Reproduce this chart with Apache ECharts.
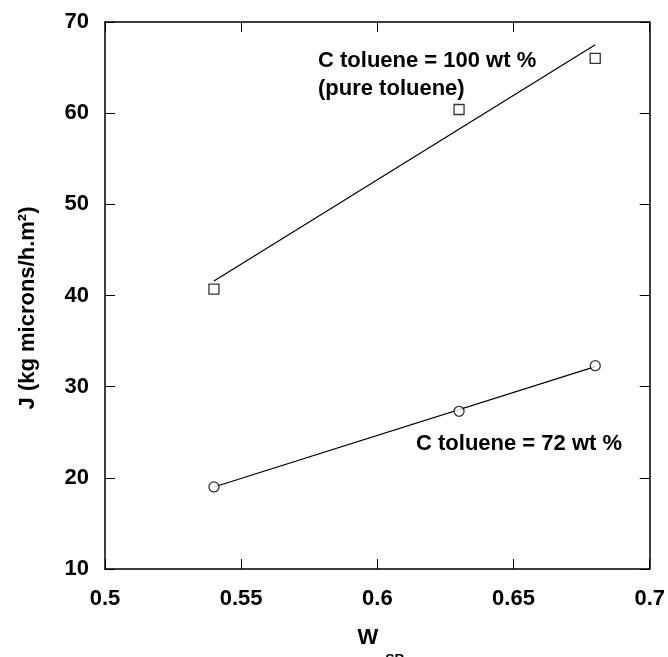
<!DOCTYPE html>
<html>
<head>
<meta charset="utf-8">
<script src="https://cdn.jsdelivr.net/npm/echarts@6/dist/echarts.min.js"></script>
<style>
html,body{margin:0;padding:0;background:#fff;}
#chart{width:668px;height:657px;}
</style>
</head>
<body>
<div id="chart"></div>
<script>
// ---- data ----
var wSB = [0.54, 0.63, 0.68];
var jPure = [40.7, 60.4, 66.0];        // C toluene = 100 wt % (squares)
var j72 = [19.0, 27.3, 32.3];          // C toluene = 72 wt % (circles)
var fitX = [0.54, 0.68];
var fitPure = [41.6, 67.5];
var fit72 = [19.0, 32.2];
var xTickLabels = ['0.5', '0.55', '0.6', '0.65', '0.7'];
var yTickLabels = ['10', '20', '30', '40', '50', '60', '70'];
var labelPure1 = 'C toluene = 100 wt %';
var labelPure2 = '(pure toluene)';
var label72 = 'C toluene = 72 wt %';

function pairs(xs, ys) { return xs.map(function (x, i) { return [x, ys[i]]; }); }

var FONT = '"Liberation Sans", Arial, sans-serif';
var chart = echarts.init(document.getElementById('chart'), null, {renderer: 'canvas'});

var baseAxisLine = {show: true, lineStyle: {color: '#000', width: 1.5}};
var baseTick = {show: true, inside: true, length: 10, lineStyle: {color: '#000', width: 1}};

function xLabelFmt(v) {
  var i = Math.round((v - 0.5) / 0.05);
  return xTickLabels[i] !== undefined ? xTickLabels[i] : '';
}
function yLabelFmt(v) {
  var i = Math.round((v - 10) / 10);
  return yTickLabels[i] !== undefined ? yTickLabels[i] : '';
}

var option = {
  animation: false,
  backgroundColor: '#fff',
  grid: {left: 105, right: 17, top: 22, bottom: 88, containLabel: false},
  xAxis: [
    {type: 'value', position: 'bottom', min: 0.5, max: 0.7, interval: 0.05,
     axisLine: baseAxisLine, axisTick: baseTick, splitLine: {show: false},
     axisLabel: {show: true, margin: 19, color: '#000', fontFamily: FONT, fontWeight: 'bold', fontSize: 22, formatter: xLabelFmt}},
    {type: 'value', position: 'top', min: 0.5, max: 0.7, interval: 0.05,
     axisLine: baseAxisLine, axisTick: baseTick, splitLine: {show: false}, axisLabel: {show: false}}
  ],
  yAxis: [
    {type: 'value', position: 'left', min: 10, max: 70, interval: 10,
     axisLine: baseAxisLine, axisTick: baseTick, splitLine: {show: false},
     axisLabel: {show: true, margin: 16, color: '#000', fontFamily: FONT, fontWeight: 'bold', fontSize: 22, formatter: yLabelFmt}},
    {type: 'value', position: 'right', min: 10, max: 70, interval: 10,
     axisLine: baseAxisLine, axisTick: baseTick, splitLine: {show: false}, axisLabel: {show: false}}
  ],
  series: [
    {type: 'line', data: pairs(fitX, fitPure), symbol: 'none', lineStyle: {color: '#000', width: 1.2}, z: 2},
    {type: 'line', data: pairs(fitX, fit72), symbol: 'none', lineStyle: {color: '#000', width: 1.2}, z: 2},
    {type: 'scatter', data: pairs(wSB, jPure), symbol: 'rect', symbolSize: 10,
     itemStyle: {color: '#fff', borderColor: '#000', borderWidth: 1.3}, z: 3},
    {type: 'scatter', data: pairs(wSB, j72), symbol: 'circle', symbolSize: 10,
     itemStyle: {color: '#fff', borderColor: '#000', borderWidth: 1.3}, z: 3}
  ],
  graphic: [
    {type: 'text', left: 318, top: 50, style: {text: labelPure1, font: 'bold 22px ' + FONT, fill: '#000'}},
    {type: 'text', left: 318, top: 78, style: {text: labelPure2, font: 'bold 22px ' + FONT, fill: '#000'}},
    {type: 'text', left: 416, top: 433, style: {text: label72, font: 'bold 22px ' + FONT, fill: '#000'}},
    {type: 'text', x: 28, y: 308, rotation: Math.PI / 2,
     style: {text: 'J (kg microns/h.m²)', font: 'bold 22px ' + FONT, fill: '#000', align: 'center', verticalAlign: 'middle'}},
    {type: 'text', x: 368, y: 638,
     style: {text: 'W', font: 'bold 22px ' + FONT, fill: '#000', align: 'center', verticalAlign: 'middle'}},
    {type: 'text', x: 395, y: 660,
     style: {text: 'SB', font: 'bold 14px ' + FONT, fill: '#000', align: 'center', verticalAlign: 'middle'}}
  ]
};
chart.setOption(option);
</script>
</body>
</html>
